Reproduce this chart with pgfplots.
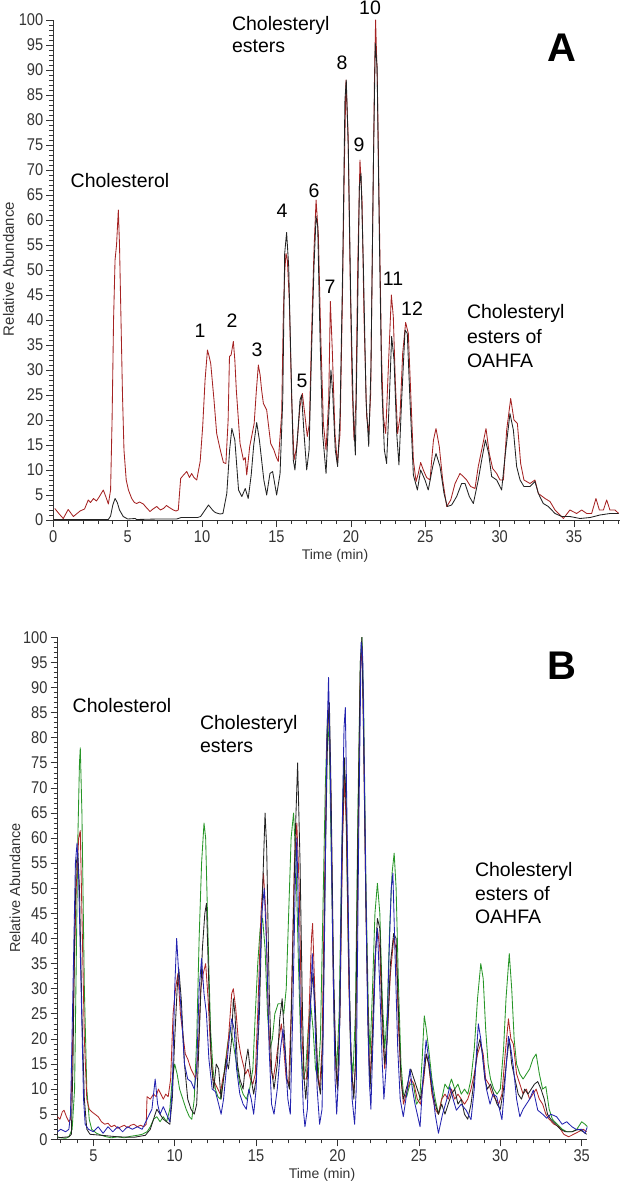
\documentclass[border=0pt]{standalone}
\usepackage{pgfplots}
\pgfplotsset{compat=1.18}
\usepackage{fontspec}
\setmainfont{Liberation Sans}
\definecolor{redA}{RGB}{165,35,35}
\definecolor{blackA}{RGB}{35,35,35}
\definecolor{greenB}{RGB}{40,150,40}
\definecolor{blueB}{RGB}{35,35,175}
\definecolor{redB}{RGB}{175,40,40}
\pgfplotsset{
  chrom/.style={
    scale only axis,
    axis x line=bottom, axis y line=left,
    axis line style={-, line width=0.8pt, black!80},
    tick align=outside,
    major tick length=7pt, minor tick length=4pt,
    every tick/.style={black!80, line width=0.7pt},
    minor x tick num=4, minor y tick num=4,
    ymin=0, ymax=100,
    ytick={0,5,...,100},
    xtick={0,5,...,40},
    ticklabel style={font=\fontsize{17}{17}\selectfont, text=black!80, xscale=0.86},
    /pgf/number format/assume math mode=true,
    every axis plot/.append style={line width=0.85pt, line join=round},
  }
}
\begin{document}
\begin{tikzpicture}
\useasboundingbox (0pt,0pt) rectangle (622pt,-1185pt);
% ---------------- Panel A ----------------
\begin{axis}[chrom, at={(53.3pt,-520pt)}, anchor=south west,
  width=566.9pt, height=500pt, xmin=0, xmax=38.1]
\addplot[redA] coordinates {
(0.1,2.3)(0.4,1.2)(0.67,0.3)(1.0,2.1)(1.35,0.7)(1.8,1.8)(2.1,2.2)(2.35,4)(2.5,3.5)(2.7,4.3)(2.9,3.8)(3.1,4.7)(3.36,6)(3.55,4.5)(3.7,3.2)(3.85,6)(3.95,20)(4.05,40)(4.15,52)(4.25,55)(4.37,62)(4.45,55)(4.55,40)(4.65,25)(4.75,14)(4.9,8)(5.05,6)(5.27,4.3)(5.45,3.5)(5.6,3.3)(5.8,3.6)(6.05,3.2)(6.25,2.5)(6.5,1.7)(6.7,2.2)(6.95,2.7)(7.2,2)(7.4,2.3)(7.6,2.9)(7.85,2.4)(8.07,2)(8.25,1.8)(8.4,2)(8.5,6)(8.56,8.3)(8.75,9)(8.97,9.7)(9.15,8.5)(9.3,9.3)(9.45,8.5)(9.64,8)(9.87,11.7)(10.04,18.7)(10.2,28)(10.36,34)(10.45,33)(10.58,31.3)(10.8,24)(10.98,17.3)(11.2,14.3)(11.43,11.5)(11.6,11.3)(11.75,20)(11.84,32.7)(11.95,33)(12.1,35.7)(12.2,32)(12.3,26)(12.55,15.3)(12.78,12)(12.9,12.5)(13.0,9)(13.2,14.7)(13.5,19.3)(13.65,26)(13.78,31)(13.9,29)(14.0,26)(14.12,23.3)(14.34,22)(14.61,15.3)(14.83,14)(14.97,12.7)(15.12,11.7)(15.35,21.3)(15.46,41.3)(15.56,50)(15.64,53.3)(15.73,52)(15.86,44)(16.02,24)(16.18,12)(16.36,14.7)(16.58,22.7)(16.74,25.3)(16.92,20.7)(17.07,16.7)(17.21,19.3)(17.36,37.3)(17.52,54)(17.66,64)(17.81,57.3)(17.97,37.3)(18.15,19.3)(18.33,14)(18.51,24)(18.62,43.7)(18.75,34)(18.93,17.3)(19.09,11.3)(19.27,17.3)(19.43,44)(19.56,70.7)(19.67,88)(19.81,77.3)(19.94,50.7)(20.08,27.3)(20.21,16)(20.34,24)(20.46,50.7)(20.61,72)(20.75,64)(20.88,40.7)(21.06,20.7)(21.2,17.3)(21.33,25.3)(21.46,57.3)(21.58,87.3)(21.66,100)(21.78,87.3)(21.91,60.7)(22.05,34)(22.18,20.7)(22.34,17.3)(22.52,30.7)(22.72,45)(22.85,40.7)(22.99,27.3)(23.14,17.3)(23.3,20.7)(23.48,33.3)(23.68,39.5)(23.86,37.3)(24.04,24)(24.2,12)(24.38,7.7)(24.53,9.3)(24.69,11.5)(24.87,10)(25.09,8.5)(25.32,8)(25.43,12)(25.55,16)(25.72,18.3)(25.94,14.7)(26.17,8)(26.44,2.7)(26.71,4)(27.0,7.3)(27.33,9.3)(27.56,8.7)(27.78,8)(28.05,6.7)(28.34,6.3)(28.56,10.7)(28.79,14)(29.08,18.3)(29.3,13.3)(29.53,10.3)(29.8,9.3)(30.02,8)(30.25,8)(30.47,18)(30.74,24.3)(30.96,20)(31.19,19.3)(31.41,11.3)(31.63,8)(32.04,7.3)(32.37,8)(32.6,5.3)(33.05,4.3)(33.38,3.7)(33.72,2)(34.05,1)(34.28,0.3)(34.72,2)(35.17,1.3)(35.51,2)(35.85,1.3)(36.18,1.3)(36.47,4.3)(36.7,2)(36.97,2)(37.19,4)(37.41,2)(37.75,2)(38.0,1.3)
};
\addplot[blackA] coordinates {
(0,0.1)(3.7,0.1)(3.85,0.8)(4.0,3)(4.15,4.3)(4.3,3.5)(4.45,2)(4.7,0.7)(5.0,0.2)(5.5,0.3)(5.6,0.1)(7.0,0.2)(8.3,0.2)(8.6,0.5)(9.7,0.5)(9.9,0.7)(10.2,2)(10.43,3)(10.7,2)(10.88,1.5)(11.2,1.2)(11.4,1.3)(11.66,5.3)(11.85,14)(12.0,18.3)(12.2,16)(12.45,6)(12.67,4.7)(12.9,6.3)(13.1,4.3)(13.3,9)(13.47,15)(13.67,19.5)(13.85,16)(14.0,12)(14.15,8)(14.34,5)(14.56,9.3)(14.74,9.7)(15.01,5)(15.24,9.3)(15.42,24)(15.55,53.3)(15.68,57.5)(15.82,50.7)(15.95,34)(16.13,12)(16.24,10)(16.4,16)(16.58,24)(16.69,25)(16.85,17.3)(17.03,10)(17.19,14)(17.36,34)(17.52,50.7)(17.66,60.7)(17.77,58.7)(17.92,37.3)(18.1,17.3)(18.33,9.3)(18.51,20.7)(18.66,30)(18.78,25.3)(18.95,14)(19.11,10.7)(19.27,20.7)(19.45,50.7)(19.6,84)(19.69,88)(19.83,74)(19.99,44)(20.17,20.7)(20.3,13)(20.43,37.3)(20.57,66.7)(20.68,69.3)(20.84,50.7)(21.02,24)(21.2,14.7)(21.35,30.7)(21.51,70.7)(21.64,95.3)(21.76,90.7)(21.91,57.3)(22.07,27.3)(22.25,14)(22.4,11.3)(22.58,24)(22.74,36.7)(22.9,32)(23.08,17.3)(23.23,11)(23.41,24)(23.64,38)(23.79,37.3)(23.97,24)(24.2,9)(24.38,7)(24.47,6)(24.69,10)(24.98,8)(25.2,6)(25.5,10.7)(25.72,13.3)(25.99,10.7)(26.26,5.3)(26.48,2.7)(26.77,3)(27.11,4.7)(27.44,7.3)(27.67,7.3)(27.96,4.7)(28.23,3.3)(28.56,8)(28.79,12)(29.04,16)(29.26,13.3)(29.46,8.7)(29.8,8)(30.13,6)(30.36,12.7)(30.69,21.3)(30.92,18)(31.14,10.7)(31.37,8)(31.63,6.7)(32.04,6.7)(32.37,7.7)(32.6,5.3)(32.93,3.3)(33.27,2.7)(33.72,1.3)(34.17,0.7)(34.72,0.7)(35.4,0.3)(36.07,0.5)(36.74,1)(37.41,1.3)(38.0,1.3)
};
\end{axis}
% ---------------- Panel B ----------------
\begin{axis}[chrom, at={(57.5pt,-1139.3pt)}, anchor=south west,
  width=529.9pt, height=502pt, xmin=2.8, xmax=35.35]
\addplot[greenB] coordinates {
(2.8,0.5)(3.0,0.3)(3.3,0.2)(3.5,0.5)(3.7,2)(3.85,10)(3.95,35)(4.05,60)(4.15,75)(4.2,78)(4.3,65)(4.45,30)(4.6,10)(4.75,4)(4.9,2)(5.2,1.2)(5.5,0.8)(5.8,0.5)(6.1,0.3)(6.5,0.5)(6.9,0.3)(7.3,0.6)(7.7,0.8)(8.0,1)(8.3,1.5)(8.5,2.5)(8.7,4)(8.9,4.5)(9.1,3.5)(9.3,4.5)(9.5,3.5)(9.7,6)(9.85,12)(10.0,15)(10.15,13)(10.3,10)(10.5,8)(10.7,6)(10.9,4.5)(11.05,4)(11.2,8)(11.35,20)(11.5,40)(11.65,55)(11.8,63)(11.9,60)(12.05,40)(12.2,22)(12.35,14)(12.5,10)(12.65,8.5)(12.8,8)(12.95,11)(13.1,15)(13.25,19)(13.4,22)(13.55,20)(13.7,17)(13.85,14)(14.0,11)(14.2,9)(14.4,8)(14.6,10)(14.8,14)(14.95,25)(15.1,35)(15.25,42)(15.4,44)(15.55,38)(15.7,25)(15.85,18)(16.0,20)(16.15,25)(16.35,27)(16.55,27)(16.7,25)(16.85,30)(17.0,45)(17.15,60)(17.3,65)(17.45,55)(17.6,35)(17.75,18)(17.9,12)(18.05,14)(18.2,22)(18.35,27)(18.5,22)(18.65,14)(18.8,12)(18.95,20)(19.1,45)(19.25,70)(19.38,84)(19.5,78)(19.65,50)(19.8,22)(19.95,14)(20.1,25)(20.25,55)(20.38,75)(20.5,70)(20.65,40)(20.8,18)(20.95,13)(21.1,25)(21.25,65)(21.4,95)(21.5,100)(21.6,88)(21.75,50)(21.9,25)(22.0,17)(22.15,30)(22.3,45)(22.45,51)(22.6,45)(22.75,28)(22.9,18)(23.05,25)(23.2,42)(23.35,53)(23.48,57)(23.6,50)(23.75,30)(23.9,15)(24.05,9)(24.25,8.5)(24.45,11)(24.66,11)(24.85,7)(25.05,8)(25.2,16)(25.33,24.6)(25.45,22)(25.6,18)(25.8,12)(26.0,8)(26.2,5)(26.4,8)(26.6,11)(26.8,10)(27.0,12)(27.2,10)(27.4,11)(27.6,9)(27.8,10)(28.0,9)(28.2,12)(28.4,18)(28.6,28)(28.8,35)(28.95,32)(29.1,22)(29.25,15)(29.4,12)(29.6,10)(29.8,9)(30.0,10)(30.2,18)(30.35,28)(30.55,37)(30.7,30)(30.85,20)(31.0,15)(31.2,13)(31.4,12)(31.6,13)(31.8,14)(32.0,16)(32.2,17)(32.4,13)(32.6,10)(32.8,10.5)(33.0,6)(33.2,4)(33.5,3)(33.8,2)(34.1,1.5)(34.4,1.5)(34.7,2)(35.0,3.5)(35.2,3)(35.35,2.5)
};
\addplot[redB] coordinates {
(2.8,4.5)(2.95,4)(3.1,5.5)(3.2,5.8)(3.35,4.5)(3.5,3.5)(3.6,4)(3.7,15)(3.8,30)(3.95,50)(4.1,60)(4.2,61.5)(4.3,45)(4.45,20)(4.6,8)(4.75,6)(4.9,5.5)(5.1,5)(5.3,4.5)(5.5,3.5)(5.7,3)(5.9,3.2)(6.1,2.5)(6.3,2.8)(6.5,2.2)(6.7,2.5)(6.9,2.8)(7.1,2.3)(7.3,2.8)(7.5,3)(7.7,2.5)(7.9,2.8)(8.1,2.5)(8.25,3)(8.3,8.5)(8.5,8)(8.7,9)(8.85,8.5)(9.0,10)(9.15,9)(9.3,8)(9.45,9)(9.6,8.5)(9.75,12)(9.9,25)(10.05,30)(10.2,33)(10.35,25)(10.5,21)(10.65,17)(10.8,16)(11.0,14)(11.15,13)(11.3,12)(11.45,18)(11.6,30)(11.75,33)(11.9,35)(12.05,28)(12.2,18)(12.35,12)(12.5,11)(12.65,10)(12.8,9)(12.95,12)(13.1,14)(13.3,20)(13.5,29)(13.6,30)(13.75,26)(13.9,20)(14.05,17)(14.2,15)(14.35,13)(14.5,14)(14.65,12)(14.8,11)(14.95,13)(15.1,25)(15.3,45)(15.45,53)(15.6,45)(15.75,25)(15.9,14)(16.05,12)(16.2,15)(16.4,20)(16.55,23)(16.7,18)(16.85,12)(17.0,11)(17.15,25)(17.35,55)(17.5,63)(17.65,50)(17.8,22)(17.95,12)(18.1,12)(18.25,25)(18.4,40)(18.47,43)(18.6,30)(18.75,14)(18.9,10)(19.05,18)(19.2,50)(19.35,80)(19.47,86)(19.6,68)(19.75,30)(19.9,14)(20.0,10)(20.15,25)(20.3,58)(20.42,72)(20.55,62)(20.7,30)(20.85,14)(21.0,9)(21.1,15)(21.25,55)(21.4,93)(21.5,98)(21.6,82)(21.75,45)(21.9,20)(22.0,12)(22.15,22)(22.3,36)(22.45,42)(22.6,38)(22.75,22)(22.9,14)(23.05,20)(23.25,33)(23.45,40)(23.6,38)(23.75,22)(23.9,12)(24.05,7)(24.3,10)(24.5,12)(24.7,11)(24.9,8)(25.1,7)(25.3,12)(25.45,17)(25.6,15)(25.8,9)(26.0,6)(26.2,5)(26.4,8)(26.6,9)(26.8,8)(27.0,10)(27.2,8)(27.4,9)(27.6,8)(27.8,7)(28.0,8)(28.2,10)(28.4,13)(28.6,17)(28.8,19)(28.95,17)(29.1,12)(29.3,11)(29.5,9)(29.7,8)(29.9,7)(30.1,9)(30.3,17)(30.5,24)(30.65,20)(30.8,19)(31.0,13)(31.2,11)(31.4,9)(31.6,10)(31.8,8)(32.0,9)(32.2,10)(32.4,8)(32.6,7)(32.8,5)(33.0,4)(33.3,3)(33.6,2.5)(33.9,1)(34.2,0.5)(34.5,1)(34.8,1.5)(35.1,2)(35.3,1.5)
};
\addplot[blackA] coordinates {
(2.8,0.3)(3.5,0.5)(3.65,1)(3.75,15)(3.85,40)(3.95,55)(4.05,57)(4.15,50)(4.3,25)(4.45,8)(4.6,2)(4.8,1)(5.5,0.8)(6.5,0.5)(7.5,0.4)(8.2,0.8)(8.5,2)(8.7,4)(8.9,6)(9.1,5)(9.3,4)(9.5,3.5)(9.7,3)(9.85,8)(10.0,20)(10.15,30)(10.25,34)(10.4,28)(10.6,15)(10.8,8)(11.0,6)(11.2,5)(11.35,7)(11.5,20)(11.7,38)(11.85,45)(11.95,47)(12.1,30)(12.25,15)(12.4,10)(12.55,15)(12.7,14)(12.85,8)(13.0,12)(13.15,16)(13.3,14)(13.5,20)(13.6,28)(13.7,25)(13.85,15)(14.0,12)(14.2,10)(14.35,15)(14.5,18)(14.7,12)(14.85,9)(15.0,12)(15.2,25)(15.4,50)(15.55,65)(15.65,58)(15.8,30)(15.95,14)(16.1,10)(16.3,15)(16.45,24)(16.6,28)(16.75,20)(16.9,12)(17.05,10)(17.2,30)(17.4,60)(17.55,75)(17.7,55)(17.85,25)(17.95,12)(18.05,8)(18.2,15)(18.35,28)(18.5,33)(18.65,25)(18.8,12)(18.95,9)(19.1,20)(19.25,55)(19.4,82)(19.5,87)(19.6,70)(19.75,35)(19.9,15)(20.0,10)(20.15,25)(20.3,60)(20.42,76)(20.55,65)(20.7,35)(20.85,15)(21.0,8)(21.1,15)(21.25,60)(21.4,95)(21.5,100)(21.6,80)(21.75,45)(21.9,20)(22.0,10)(22.15,20)(22.3,35)(22.45,44)(22.6,42)(22.75,25)(22.9,15)(23.05,20)(23.25,35)(23.45,41)(23.6,40)(23.75,25)(23.9,12)(24.05,8)(24.3,11)(24.5,14)(24.7,12)(24.9,10)(25.1,8)(25.3,13)(25.45,17)(25.6,15)(25.8,10)(26.0,7)(26.2,5)(26.4,7)(26.6,5)(26.8,7)(27.0,9)(27.2,10)(27.4,7)(27.6,8)(27.8,5)(28.0,4)(28.2,7)(28.4,12)(28.6,18)(28.75,20)(28.9,17)(29.05,12)(29.2,10)(29.4,11)(29.6,9)(29.8,7)(30.0,6)(30.2,10)(30.4,16)(30.55,20)(30.7,15)(30.9,12)(31.1,9)(31.3,8)(31.5,10)(31.7,9)(31.9,10)(32.1,11)(32.3,11.5)(32.5,10)(32.7,8)(32.9,5)(33.1,4)(33.4,3)(33.7,2)(34.0,1.5)(34.4,1.5)(34.8,2)(35.1,1.5)(35.3,1)
};
\addplot[blueB] coordinates {
(2.8,1.5)(3.0,2)(3.3,1.5)(3.5,2)(3.6,5)(3.75,30)(3.9,55)(4.0,59)(4.1,52)(4.25,30)(4.4,8)(4.5,3)(4.7,2)(5.0,1.5)(5.3,2.5)(5.6,1.2)(5.9,2.5)(6.2,1.5)(6.5,2.5)(6.8,1.5)(7.1,2.5)(7.4,2)(7.7,2.5)(8.0,2)(8.3,4)(8.6,6)(8.8,12)(8.95,7)(9.1,5)(9.3,6.5)(9.5,5)(9.7,3.5)(9.85,10)(10.0,30)(10.12,40)(10.3,30)(10.45,23)(10.6,15)(10.8,12)(11.0,11.5)(11.2,10)(11.35,14)(11.5,30)(11.65,36)(11.8,29)(11.95,25)(12.1,16)(12.3,10)(12.5,9.5)(12.7,7)(12.85,5)(13.0,8)(13.2,15)(13.35,20)(13.5,24)(13.65,22)(13.8,14)(14.0,9)(14.2,7)(14.4,6)(14.55,10)(14.7,8)(14.85,5)(15.0,10)(15.2,30)(15.35,45)(15.5,50)(15.65,38)(15.8,18)(15.95,7)(16.1,5)(16.3,10)(16.5,18)(16.65,22)(16.8,16)(16.95,8)(17.1,5)(17.25,25)(17.4,50)(17.5,60)(17.6,45)(17.75,20)(17.9,6)(18.0,2.5)(18.15,6)(18.3,22)(18.45,37)(18.6,25)(18.75,10)(18.9,3)(19.05,6)(19.2,40)(19.35,80)(19.45,92)(19.55,75)(19.7,40)(19.85,12)(19.95,5)(20.1,15)(20.25,55)(20.4,82)(20.48,86)(20.6,60)(20.75,25)(20.9,8)(21.05,3)(21.15,10)(21.3,60)(21.45,99)(21.55,96)(21.7,60)(21.85,25)(21.95,12)(22.05,6)(22.2,22)(22.35,38)(22.45,42)(22.6,30)(22.75,15)(22.85,8)(23.0,15)(23.15,35)(23.3,50)(23.4,53)(23.55,35)(23.7,18)(23.85,8)(24.04,4.5)(24.2,8)(24.45,14)(24.6,10)(24.76,7)(24.9,5)(25.07,2.5)(25.25,12)(25.44,19.8)(25.6,16)(25.8,11)(26.0,5)(26.2,1.2)(26.45,5)(26.7,7.8)(26.9,10.5)(27.1,8)(27.3,5.8)(27.6,7)(27.9,5.8)(28.2,3.9)(28.4,10)(28.55,18)(28.65,23)(28.8,20)(28.96,15)(29.15,10)(29.37,7)(29.55,9)(29.78,8.5)(29.95,6)(30.1,3.9)(30.3,12)(30.5,20.5)(30.65,18)(30.8,14.5)(31.0,8)(31.2,4.5)(31.4,6)(31.6,7)(31.8,8)(32.03,9.8)(32.3,5.8)(32.6,5)(32.85,4.2)(33.1,5)(33.46,4.5)(33.8,3)(34.08,3.5)(34.4,2.5)(34.7,1.9)(35.0,2)(35.2,1.2)(35.35,2.5)
};
\end{axis}
% ---------------- texts ----------------
\begin{scope}[every node/.style={inner sep=0pt, outer sep=0pt, text=black}]
\node[rotate=90, font=\fontsize{15}{15}\selectfont, text=black!80] at (8.5pt,-269pt) {Relative Abundance};
\node[font=\fontsize{14}{14}\selectfont, text=black!80] at (335pt,-556pt) {Time (min)};
\node[rotate=90, font=\fontsize{14.5}{14.5}\selectfont, text=black!80] at (15pt,-888pt) {Relative Abundance};
\node[font=\fontsize{14}{14}\selectfont, text=black!80] at (322pt,-1175pt) {Time (min)};
\begin{scope}[every node/.append style={font=\fontsize{19.5}{19.5}\selectfont}]
\node[anchor=base] at (120pt,-188pt) {Cholesterol};
\node[anchor=base west] at (232pt,-31pt) {Cholesteryl};
\node[anchor=base west] at (232pt,-53pt) {esters};
\node[anchor=base west] at (467pt,-318pt) {Cholesteryl};
\node[anchor=base west] at (467pt,-343pt) {esters of};
\node[anchor=base west] at (467pt,-367pt) {OAHFA};
\node[anchor=base] at (200pt,-337pt) {1};
\node[anchor=base] at (232pt,-327pt) {2};
\node[anchor=base] at (257pt,-356pt) {3};
\node[anchor=base] at (282pt,-218pt) {4};
\node[anchor=base] at (302pt,-387pt) {5};
\node[anchor=base] at (314pt,-197pt) {6};
\node[anchor=base] at (330pt,-293pt) {7};
\node[anchor=base] at (342pt,-70pt) {8};
\node[anchor=base] at (359pt,-152pt) {9};
\node[anchor=base] at (370pt,-15pt) {10};
\node[anchor=base] at (393pt,-285pt) {11};
\node[anchor=base] at (412pt,-315pt) {12};
\node[anchor=base] at (122pt,-712pt) {Cholesterol};
\node[anchor=base west] at (200pt,-729pt) {Cholesteryl};
\node[anchor=base west] at (200pt,-752pt) {esters};
\node[anchor=base west] at (475pt,-876pt) {Cholesteryl};
\node[anchor=base west] at (475pt,-900pt) {esters of};
\node[anchor=base west] at (475pt,-923pt) {OAHFA};
\end{scope}
\node[anchor=base, font=\fontsize{40}{40}\selectfont\bfseries] at (562pt,-62pt) {A};
\node[anchor=base, font=\fontsize{40}{40}\selectfont\bfseries] at (562pt,-679pt) {B};
\end{scope}
\end{tikzpicture}
\end{document}
